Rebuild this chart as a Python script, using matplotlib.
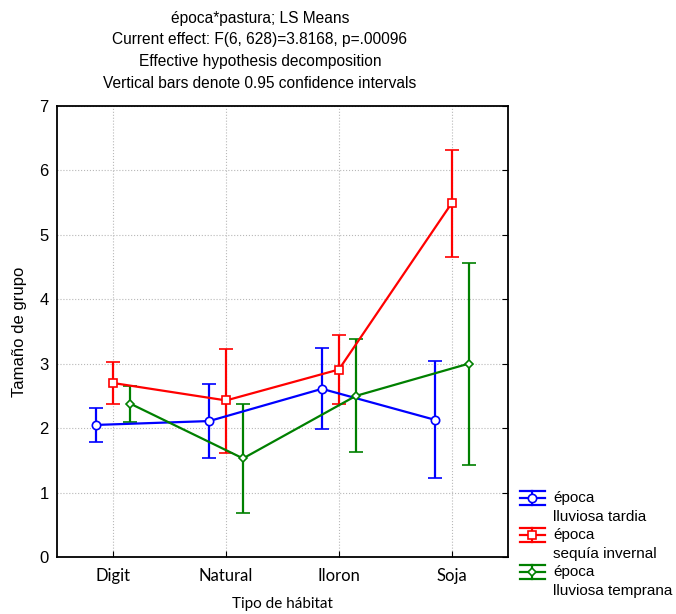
import numpy as np
import matplotlib
matplotlib.use("Agg")
import matplotlib.pyplot as plt
from matplotlib.lines import Line2D

# LS means and 0.95 CI per season and habitat type
habitats = ["Digit", "Natural", "Iloron", "Soja"]
series_names = ["época\nlluviosa tardia", "época\nsequía invernal", "época\nlluviosa temprana"]

tardia_mean = [2.05, 2.11, 2.61, 2.13]
tardia_lo = [1.78, 1.53, 1.98, 1.23]
tardia_hi = [2.32, 2.68, 3.24, 3.04]

invernal_mean = [2.70, 2.43, 2.91, 5.49]
invernal_lo = [2.37, 1.62, 2.37, 4.66]
invernal_hi = [3.03, 3.23, 3.45, 6.32]

temprana_mean = [2.38, 1.53, 2.50, 3.00]
temprana_lo = [2.10, 0.68, 1.63, 1.43]
temprana_hi = [2.66, 2.38, 3.38, 4.57]

means = [tardia_mean, invernal_mean, temprana_mean]
lows = [tardia_lo, invernal_lo, temprana_lo]
highs = [tardia_hi, invernal_hi, temprana_hi]
colors = ["#0000ff", "#ff0000", "#008000"]
markers = ["o", "s", "D"]
msizes = [6, 6, 4.5]
offsets = [-0.15, 0.0, 0.15]

arial = ["Liberation Sans", "DejaVu Sans"]
calibri = ["Lato", "DejaVu Sans"]

W, H = 676, 614
fig = plt.figure(figsize=(W / 100, H / 100), dpi=100)
ax = fig.add_axes([57 / W, 1 - 557 / H, (508 - 57) / W, (557 - 106) / H])

x = np.arange(len(habitats))
for m, lo, hi, c, mk, ms, off in zip(means, lows, highs, colors, markers, msizes, offsets):
    m = np.array(m)
    yerr = [m - np.array(lo), np.array(hi) - m]
    ax.errorbar(x + off, m, yerr=yerr, color=c, lw=1.6, elinewidth=1.6,
                capsize=5, capthick=1.6, marker=mk, ms=ms, mfc="white",
                mec=c, mew=1.2, zorder=3)

ax.set_xlim(-0.5, 3.5)
ax.set_ylim(0, 7)
ax.set_xticks(x)
ax.set_xticklabels(habitats, fontfamily=calibri, fontsize=12)
ax.set_yticks(range(0, 8))
ax.set_yticklabels([str(v) for v in range(0, 8)], fontfamily=arial, fontsize=12)
ax.tick_params(axis="y", left=False, right=True, direction="in", length=4, pad=6)
ax.tick_params(axis="x", bottom=True, direction="in", length=4, pad=8)
ax.grid(True, ls=":", color="#b8b8b8", lw=0.8)
ax.set_axisbelow(True)
for s in ax.spines.values():
    s.set_linewidth(1.3)

ax.set_ylabel("Tamaño de grupo", fontfamily=arial, fontsize=12, labelpad=9)
ax.set_xlabel("Tipo de hábitat", fontfamily=calibri, fontsize=11, labelpad=9)

title_lines = ["época*pastura; LS Means",
               "Current effect: F(6, 628)=3.8168, p=.00096",
               "Effective hypothesis decomposition",
               "Vertical bars denote 0.95 confidence intervals"]
for i, t in enumerate(title_lines):
    fig.text(260 / W, 1 - (18 + i * 21.7) / H, t, ha="center", va="center",
             fontfamily=arial, fontsize=11.2)

# legend drawn by hand: errorbar-style glyph next to two-line label
for i, (name, c, mk, ms) in enumerate(zip(series_names, colors, markers, msizes)):
    y0 = 1 - (498 + i * 37) / H
    dy = 7 / H
    x0, x1, xm = 520 / W, 545 / W, 532 / W
    for yy in (y0 - dy, y0, y0 + dy):
        fig.add_artist(Line2D([x0, x1], [yy, yy], color=c, lw=1.6))
    fig.add_artist(Line2D([xm, xm], [y0 - dy, y0 + dy], color=c, lw=1.6))
    fig.add_artist(Line2D([xm], [y0], marker=mk, ms=ms, mfc="white", mec=c, mew=1.2))
    first, second = name.split("\n")
    fig.text(553 / W, y0, first, ha="left", va="center", fontfamily=arial, fontsize=11)
    fig.text(553 / W, y0 - 19 / H, second, ha="left", va="center", fontfamily=arial, fontsize=11)

fig.savefig("out.png", dpi=100)
